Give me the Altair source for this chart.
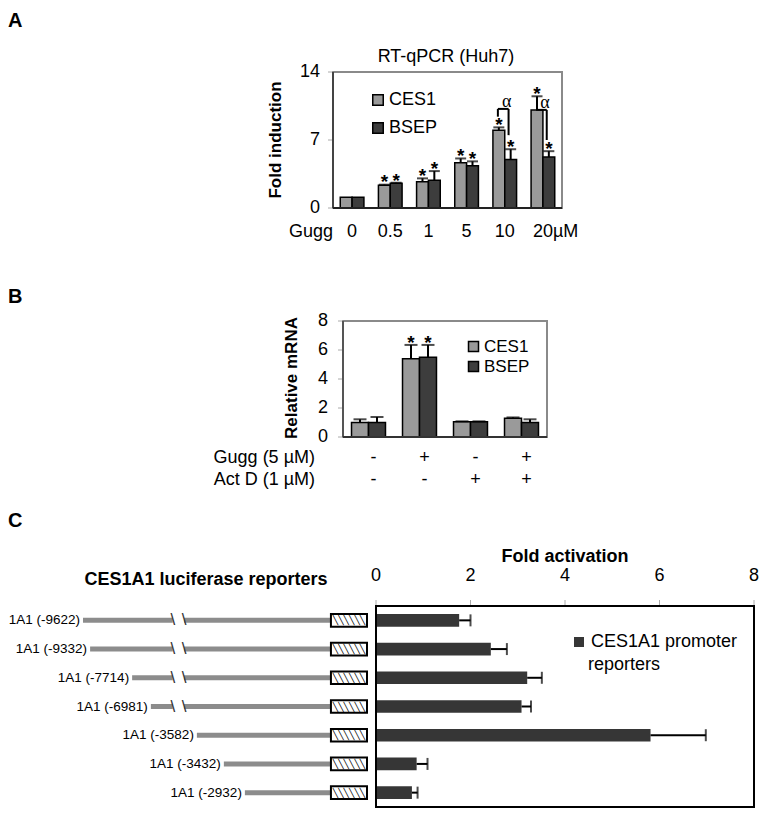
import altair as alt
import pandas as pd

FONT = "Liberation Sans, Arial, sans-serif"

# ---------------- Panel A data ----------------
doses = ["0", "0.5", "1", "5", "10", "20"]
dose_unit = "µM"
ces1_fold = [1.1, 2.35, 2.7, 4.65, 8.0, 10.1]
ces1_fold_err = [0.0, 0.05, 0.35, 0.45, 0.3, 1.4]
bsep_fold = [1.1, 2.55, 2.85, 4.35, 5.0, 5.25]
bsep_fold_err = [0.0, 0.05, 0.95, 0.45, 1.05, 0.6]
ces1_fold_star = [False, True, True, True, True, True]
bsep_fold_star = [False, True, True, True, True, True]
alpha_doses = ["10", "20"]
alpha_top = [10.2, 10.1]
alpha_ces1_end = [9.4, 10.1]
alpha_bsep_end = [7.5, 7.0]
fold_ticks = [0, 7, 14]

# ---------------- Panel B data ----------------
treat_gugg = ["-", "+", "-", "+"]
treat_actd = ["-", "-", "+", "+"]
ces1_rel = [1.0, 5.4, 1.05, 1.3]
ces1_rel_err = [0.22, 0.95, 0.03, 0.05]
bsep_rel = [1.0, 5.5, 1.05, 1.0]
bsep_rel_err = [0.38, 0.85, 0.03, 0.22]
ces1_rel_star = [False, True, False, False]
bsep_rel_star = [False, True, False, False]
rel_ticks = [0, 2, 4, 6, 8]

# ---------------- Panel C data ----------------
constructs = ["1A1 (-9622)", "1A1 (-9332)", "1A1 (-7714)", "1A1 (-6981)",
              "1A1 (-3582)", "1A1 (-3432)", "1A1 (-2932)"]
fold_act = [1.76, 2.43, 3.2, 3.08, 5.81, 0.86, 0.76]
fold_act_err = [0.24, 0.34, 0.31, 0.2, 1.17, 0.23, 0.12]
act_ticks = [0, 2, 4, 6, 8]
reporter_series = "CES1A1 promoter reporters"
# schematic promoter drawing (schematic units 0-100)
promoter_start = [0, 2.5, 17.3, 23.9, 40.1, 49.6, 57.0]
promoter_break = [True, True, True, True, False, False, False]
BREAK_L, BREAK_R = 31.6, 35.6
LUC_START, LUC_END = 87.3, 100.0

# ---------------- geometry (chart px) ----------------
A_L, A_R, A_T, A_B = 325, 554, 64, 200
B_L, B_R, B_T, B_B = 335, 539, 313, 429
C_L, C_R, C_T, C_B = 368, 746, 598, 799
D_L, D_R = 75, 359


def txt(text, x, y, size=18, weight="normal", align="center", angle=0,
        font=FONT, baseline="middle"):
    return alt.Chart(pd.DataFrame({"t": [text]})).mark_text(
        align=align, baseline=baseline, fontSize=size, fontWeight=weight,
        angle=angle, font=font, color="black"
    ).encode(x=alt.value(x), y=alt.value(y), text="t:N")


def one():
    return pd.DataFrame({"k": [0]})


def grouped(cats, series, half):
    rows = []
    for si, (name, vals, errs, stars) in enumerate(series):
        for i, c in enumerate(cats):
            x0 = i - half if si == 0 else i
            x1 = i if si == 0 else i + half
            rows.append(dict(cat=c, idx=i, series=name, value=vals[i],
                             err=errs[i], top=vals[i] + errs[i], star=stars[i],
                             x0=x0, x1=x1, xc=(x0 + x1) / 2, zero=0))
    return pd.DataFrame(rows)


def frame(l, r, t, b, color="#8a8a8a", width=2):
    return alt.Chart(one()).mark_rect(fillOpacity=0, stroke=color, strokeWidth=width).encode(
        x=alt.value(l), x2=alt.value(r), y=alt.value(t), y2=alt.value(b))


def hline(l, r, y, color="#333333", width=2):
    return alt.Chart(one()).mark_rule(color=color, strokeWidth=width).encode(
        x=alt.value(l), x2=alt.value(r), y=alt.value(y), y2=alt.value(y))


def vline(x, t, b, color="#333333", width=2):
    return alt.Chart(one()).mark_rule(color=color, strokeWidth=width).encode(
        x=alt.value(x), x2=alt.value(x), y=alt.value(t), y2=alt.value(b))


def series_legend(x, y, size, row_pad, sym=110, stroke=1.5):
    return alt.Legend(title=None, orient="none", legendX=x, legendY=y,
                      direction="vertical", symbolType="square", symbolSize=sym,
                      symbolStrokeColor="black", symbolStrokeWidth=stroke,
                      symbolOpacity=1, labelFont=FONT, labelFontSize=size,
                      labelColor="black", rowPadding=row_pad, padding=0,
                      labelOffset=2, labelLimit=300)


def grouped_panel(df, xs, ys, colscale, legend, cap, star_size):
    base = alt.Chart(df)
    bars = base.mark_rect(stroke="black", strokeWidth=1.5).encode(
        x=alt.X("x0:Q", scale=xs, axis=None), x2="x1:Q",
        y=alt.Y("value:Q", scale=ys, axis=None), y2="zero:Q",
        color=alt.Color("series:N", scale=colscale, legend=legend))
    errdf = df[df.err > 0]
    err = alt.Chart(errdf).mark_rule(color="black", strokeWidth=2).encode(
        x=alt.X("xc:Q", scale=xs, axis=None),
        y=alt.Y("value:Q", scale=ys, axis=None), y2="top:Q")
    caps = alt.Chart(errdf).mark_tick(orient="horizontal", size=cap, thickness=2,
                                      color="black").encode(
        x=alt.X("xc:Q", scale=xs, axis=None),
        y=alt.Y("top:Q", scale=ys, axis=None))
    stars = alt.Chart(df[df.star]).mark_text(
        text="*", fontSize=star_size, fontWeight="bold", font=FONT,
        baseline="alphabetic", dy=star_size * 0.2, color="black").encode(
        x=alt.X("xc:Q", scale=xs, axis=None),
        y=alt.Y("top:Q", scale=ys, axis=None))
    return [bars, err, caps, stars]


def yticks(ticks, ys, axis_x, label_x, size):
    tdf = pd.DataFrame({"v": ticks})
    lab = alt.Chart(tdf).mark_text(align="right", baseline="middle", fontSize=size,
                                   font=FONT, color="black").encode(
        x=alt.value(label_x), y=alt.Y("v:Q", scale=ys, axis=None), text="v:Q")
    tk = alt.Chart(tdf).mark_rule(color="#aaaaaa", strokeWidth=1).encode(
        x=alt.value(axis_x - 5), x2=alt.value(axis_x),
        y=alt.Y("v:Q", scale=ys, axis=None))
    return [tk, lab]


# ================= Panel A =================
xa = alt.Scale(domain=[-0.5, len(doses) - 0.5], range=[A_L, A_R])
ya = alt.Scale(domain=[0, 14], range=[A_B, A_T])
col_a = alt.Scale(domain=["CES1", "BSEP"], range=["#9a9a9a", "#3d3d3d"])
dfa = grouped(doses, [("CES1", ces1_fold, ces1_fold_err, ces1_fold_star),
                      ("BSEP", bsep_fold, bsep_fold_err, bsep_fold_star)], 0.31)

layers_a = grouped_panel(dfa, xa, ya, col_a,
                         series_legend(361, 83, 18, 10), 11, 19)

rows = []
for d, t, ce, be in zip(alpha_doses, alpha_top, alpha_ces1_end, alpha_bsep_end):
    i = doses.index(d)
    rows.append(dict(x=i - 0.18, x2=i - 0.18, y=ce, y2=t))
    rows.append(dict(x=i + 0.1, x2=i + 0.1, y=be, y2=t))
    rows.append(dict(x=i - 0.18, x2=i + 0.1, y=t, y2=t))
bracket_df = pd.DataFrame(rows)
brackets = alt.Chart(bracket_df).mark_rule(color="black", strokeWidth=2).encode(
    x=alt.X("x:Q", scale=xa, axis=None), x2="x2:Q",
    y=alt.Y("y:Q", scale=ya, axis=None), y2="y2:Q")
alpha_df = pd.DataFrame({"idx": [doses.index(d) for d in alpha_doses], "top": alpha_top})
alphas = alt.Chart(alpha_df).mark_text(
    text="α", fontSize=18, font="Liberation Serif, DejaVu Serif", baseline="middle",
    dy=-7, dx=2, color="black").encode(
    x=alt.X("idx:Q", scale=xa, axis=None), y=alt.Y("top:Q", scale=ya, axis=None))

xlab_a = alt.Chart(pd.DataFrame({"idx": range(len(doses)), "lab": doses})).mark_text(
    fontSize=18, font=FONT, baseline="middle", color="black").encode(
    x=alt.X("idx:Q", scale=xa, axis=None), y=alt.value(224), text="lab:N")

panel_a = alt.layer(
    frame(A_L, A_R, A_T, A_B),
    *layers_a, brackets, alphas, xlab_a,
    *yticks(fold_ticks, ya, A_L, 312, 18),
    vline(A_L, A_T, A_B, "#444444", 2),
    hline(A_L, A_R, A_B, "#222222", 2),
)

# ================= Panel B =================
xb = alt.Scale(domain=[-0.5, len(treat_gugg) - 0.5], range=[B_L, B_R])
yb = alt.Scale(domain=[0, 8], range=[B_B, B_T])
col_b = alt.Scale(domain=["CES1", "BSEP"], range=["#9a9a9a", "#3d3d3d"])
dfb = grouped(list(range(len(treat_gugg))),
              [("CES1", ces1_rel, ces1_rel_err, ces1_rel_star),
               ("BSEP", bsep_rel, bsep_rel_err, bsep_rel_star)], 0.333)
layers_b = grouped_panel(dfb, xb, yb, col_b,
                         series_legend(457, 330, 17, 2, sym=100), 13, 19)
sign_df = pd.DataFrame({"idx": range(len(treat_gugg)), "g": treat_gugg, "a": treat_actd})
signs_g = alt.Chart(sign_df).mark_text(fontSize=18, font=FONT, baseline="middle",
                                       dx=5, color="black").encode(
    x=alt.X("idx:Q", scale=xb, axis=None), y=alt.value(450), text="g:N")
signs_a = alt.Chart(sign_df).mark_text(fontSize=18, font=FONT, baseline="middle",
                                       dx=5, color="black").encode(
    x=alt.X("idx:Q", scale=xb, axis=None), y=alt.value(472), text="a:N")

panel_b = alt.layer(
    frame(B_L, B_R, B_T, B_B),
    *layers_b, signs_g, signs_a,
    *yticks(rel_ticks, yb, B_L, 320, 18),
    vline(B_L, B_T, B_B, "#555555", 2),
    hline(B_L, B_R, B_B, "#333333", 2),
)

# ================= Panel C bars =================
xc = alt.Scale(domain=[0, 8], range=[C_L, C_R])
yc = alt.Scale(domain=constructs, range=[C_T, C_B], paddingInner=0.56, paddingOuter=0.28)
col_c = alt.Scale(domain=[reporter_series], range=["#363636"])
dfc = pd.DataFrame({"construct": constructs, "fold": fold_act, "err": fold_act_err,
                    "series": reporter_series})
dfc["top"] = dfc["fold"] + dfc["err"]
legend_c = alt.Legend(title=None, orient="none", legendX=562, legendY=625,
                      symbolType="square", symbolSize=100, symbolStrokeWidth=0,
                      symbolOpacity=1, labelFont=FONT, labelFontSize=18,
                      labelColor="black", padding=0, labelOffset=3, labelLimit=400,
                      labelBaseline="middle",
                      labelExpr="'CES1A1 promoter'")
bars_c = alt.Chart(dfc).mark_bar().encode(
    x=alt.X("fold:Q", scale=xc, axis=None),
    y=alt.Y("construct:N", scale=yc, axis=None, sort=constructs),
    color=alt.Color("series:N", scale=col_c, legend=legend_c))
err_c = alt.Chart(dfc).mark_rule(color="black", strokeWidth=2).encode(
    x=alt.X("fold:Q", scale=xc, axis=None), x2="top:Q",
    y=alt.Y("construct:N", scale=yc, axis=None, sort=constructs))
cap_c = alt.Chart(dfc).mark_tick(orient="vertical", size=12, thickness=2, color="black").encode(
    x=alt.X("top:Q", scale=xc, axis=None),
    y=alt.Y("construct:N", scale=yc, axis=None, sort=constructs))
tdf_c = pd.DataFrame({"v": act_ticks})
tick_lab_c = alt.Chart(tdf_c).mark_text(fontSize=18, font=FONT, baseline="middle",
                                        color="black").encode(
    x=alt.X("v:Q", scale=xc, axis=None), y=alt.value(568), text="v:Q")
tick_c = alt.Chart(tdf_c).mark_rule(color="#aaaaaa", strokeWidth=1).encode(
    x=alt.X("v:Q", scale=xc, axis=None), y=alt.value(C_T - 6), y2=alt.value(C_T))

panel_c = alt.layer(bars_c, err_c, cap_c, tick_c, tick_lab_c,
                    frame(C_L, C_R, C_T, C_B, "black", 2))

# ================= Panel C diagram =================
xd = alt.Scale(domain=[0, 100], range=[D_L, D_R])
seg_rows = []
for c, s, br in zip(constructs, promoter_start, promoter_break):
    if br:
        seg_rows.append(dict(construct=c, a=s, b=BREAK_L))
        seg_rows.append(dict(construct=c, a=BREAK_R, b=LUC_START))
    else:
        seg_rows.append(dict(construct=c, a=s, b=LUC_START))
seg_df = pd.DataFrame(seg_rows)
segs = alt.Chart(seg_df).mark_rule(color="#8c8c8c", strokeWidth=5).encode(
    x=alt.X("a:Q", scale=xd, axis=None), x2="b:Q",
    y=alt.Y("construct:N", scale=yc, axis=None, sort=constructs))
brk_rows = []
for c, br in zip(constructs, promoter_break):
    if br:
        brk_rows.append(dict(construct=c, p=BREAK_L))
        brk_rows.append(dict(construct=c, p=BREAK_R))
brk_df = pd.DataFrame(brk_rows)
brks = alt.Chart(brk_df).mark_text(text="\\", fontSize=17, font=FONT,
                                   baseline="middle", color="#333333").encode(
    x=alt.X("p:Q", scale=xd, axis=None),
    y=alt.Y("construct:N", scale=yc, axis=None, sort=constructs))
lab_df = pd.DataFrame({"construct": constructs, "s": promoter_start})
labs = alt.Chart(lab_df).mark_text(align="right", baseline="middle", fontSize=13.5,
                                   font=FONT, dx=-3, color="black").encode(
    x=alt.X("s:Q", scale=xd, axis=None),
    y=alt.Y("construct:N", scale=yc, axis=None, sort=constructs), text="construct:N")
box_df = pd.DataFrame({"construct": constructs, "a": LUC_START, "b": LUC_END,
                       "m": (LUC_START + LUC_END) / 2})
boxes = alt.Chart(box_df).mark_rect(fill="white", stroke="black", strokeWidth=2).encode(
    x=alt.X("a:Q", scale=xd, axis=None), x2="b:Q",
    y=alt.Y("construct:N", scale=yc, axis=None, sort=constructs))
hatch = alt.Chart(box_df).mark_text(text="╲╲╲╲╲╲", fontSize=9, font="DejaVu Sans Mono",
                                    baseline="middle", color="black").encode(
    x=alt.X("m:Q", scale=xd, axis=None),
    y=alt.Y("construct:N", scale=yc, axis=None, sort=constructs))
panel_d = alt.layer(segs, brks, labs, boxes, hatch)

# ================= text annotations =================
annot = [
    txt("A", 0, 13, 20, "bold", "left"),
    txt("B", 0, 289, 20, "bold", "left"),
    txt("C", 0, 513, 20, "bold", "left"),
    txt("RT-qPCR (Huh7)", 438, 49, 18),
    txt("Fold induction", 268, 132, 17, "bold", angle=270),
    txt("Gugg", 303, 224, 18),
    txt(dose_unit, 545, 224, 18, align="left"),
    txt("Relative mRNA", 284, 370, 17, "bold", angle=270),
    txt("Gugg (5 µM)", 307, 450, 18, align="right"),
    txt("Act D (1 µM)", 307, 472, 18, align="right"),
    txt("CES1A1 luciferase reporters", 198, 572, 18, "bold"),
    txt("Fold activation", 557, 549, 18, "bold"),
    txt("reporters", 580, 657, 18, align="left"),
]

chart = alt.layer(panel_a, panel_b, panel_c, panel_d, *annot).resolve_scale(
    x="independent", y="independent", color="independent"
).properties(
    width=752, height=801, autosize=alt.AutoSizeParams(type="none"), padding=0
).configure_view(stroke=None)

chart.save("out.html", embed_options={"renderer": "svg", "actions": False})
